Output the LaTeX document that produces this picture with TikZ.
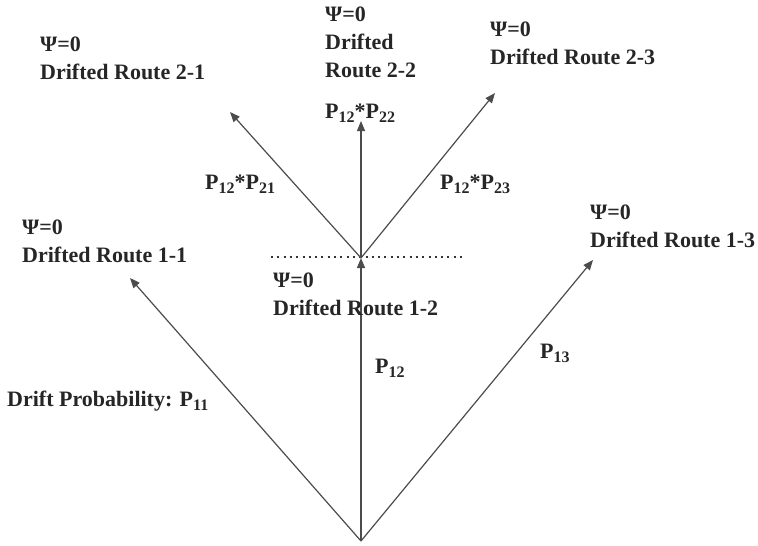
\documentclass[tikz,border=0pt]{standalone}
\usepackage{fontspec}
\setmainfont{Liberation Serif}
\usetikzlibrary{arrows.meta}
\newcommand\sbs[1]{\raisebox{-0.2em}{\fontsize{16}{16}\selectfont #1}}
\begin{document}
\begin{tikzpicture}[x=1pt,y=-1pt,
  lbl/.style={inner sep=0pt, font=\fontsize{22}{28}\selectfont\bfseries, text=black!85},
  blk/.style={lbl, align=left, anchor=north west},
  conn/.style={draw=black!70, line width=1.2pt, -{Triangle[length=10pt,width=8pt]}},
  dotline/.style={draw=black!80, line width=2pt, dash pattern=on 2pt off 4.3pt}]
\useasboundingbox (0,0) rectangle (758,546);
\fill[white] (0,0) rectangle (758,546);
% points
\coordinate (O) at (361,541);
\coordinate (N) at (361,258);
\coordinate (t11) at (130,278);
\coordinate (t13) at (593,260);
\coordinate (t21) at (230,112);
\coordinate (t22) at (361,121);
\coordinate (t23) at (495,93);
\coordinate (d1) at (271,257);
\coordinate (d2) at (464,257);
% dotted line
\draw[dotline] (d1) -- (d2);
% connectors
\draw[conn] (O) -- (t11);
\draw[conn] (O) -- (N);
\draw[conn] (O) -- (t13);
\draw[conn] (N) -- (t21);
\draw[conn] (N) -- (t22);
\draw[conn] (N) -- (t23);
% text blocks
\node[blk] (r21) at (40,37) {Ψ=0\\Drifted Route 2-1};
\node[blk] (r22) at (325,7) {Ψ=0\\Drifted\\Route 2-2};
\node[blk] (r23) at (490,22) {Ψ=0\\Drifted Route 2-3};
\node[blk] (r11) at (22,220) {Ψ=0\\Drifted Route 1-1};
\node[blk] (r13) at (590,205) {Ψ=0\\Drifted Route 1-3};
\node[blk] (r12) at (273,273) {Ψ=0\\Drifted Route 1-2};
% probability labels
\node[lbl, anchor=base west] (p22) at (325,118) {P\sbs{12}*P\sbs{22}};
\node[lbl, anchor=base west] (p21) at (205,189) {P\sbs{12}*P\sbs{21}};
\node[lbl, anchor=base west] (p23) at (440,189) {P\sbs{12}*P\sbs{23}};
\node[lbl, anchor=base west] (p12) at (375,373) {P\sbs{12}};
\node[lbl, anchor=base west] (p13) at (540,358) {P\sbs{13}};
\node[lbl, anchor=base west] (p11) at (7,406) {Drift Probability: P\sbs{11}};
\end{tikzpicture}
\end{document}
